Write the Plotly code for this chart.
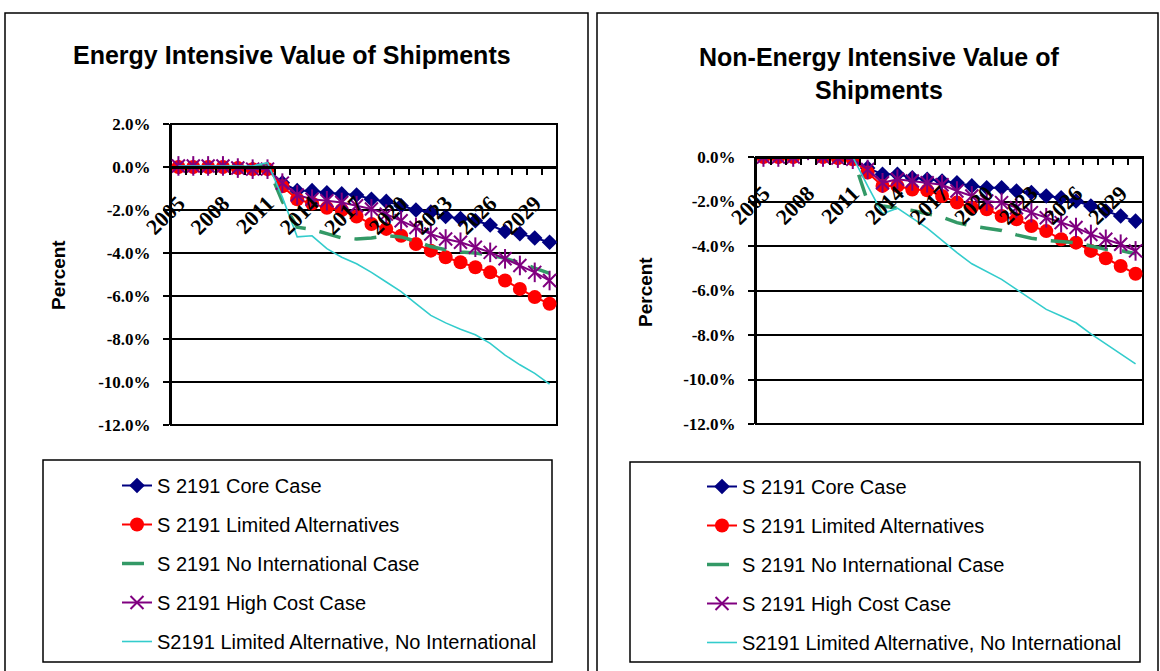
import plotly.graph_objects as go

# ---------------- data ----------------
years = list(range(2005, 2031))
xtick_years = [2005, 2008, 2011, 2014, 2017, 2020, 2023, 2026, 2029]
xtick_text = [str(y) for y in xtick_years]

left_ytick_vals = [2, 0, -2, -4, -6, -8, -10, -12]
left_ytick_text = ["2.0%", "0.0%", "-2.0%", "-4.0%", "-6.0%", "-8.0%", "-10.0%", "-12.0%"]
right_ytick_vals = [0, -2, -4, -6, -8, -10, -12]
right_ytick_text = ["0.0%", "-2.0%", "-4.0%", "-6.0%", "-8.0%", "-10.0%", "-12.0%"]

series_names = ["S 2191 Core Case", "S 2191 Limited Alternatives", "S 2191 No International Case",
                "S 2191 High Cost Case", "S2191 Limited Alternative, No International"]

left_core = [0.0, 0.0, 0.0, 0.0, -0.05, -0.1, -0.1, -0.73, -1.1, -1.1, -1.2, -1.25, -1.3, -1.5, -1.6,
             -1.8, -2.0, -2.1, -2.3, -2.4, -2.5, -2.7, -3.0, -3.1, -3.3, -3.5]
left_limited = [0.0, 0.0, 0.0, 0.0, -0.05, -0.1, -0.1, -0.9, -1.5, -1.7, -1.9, -2.0, -2.3, -2.65, -2.88,
                -3.2, -3.58, -3.89, -4.2, -4.43, -4.66, -4.9, -5.28, -5.67, -6.05, -6.36]
left_noint = [0.0, 0.0, 0.0, 0.0, 0.0, 0.0, 0.05, -1.6, -2.8, -2.9, -3.1, -3.3, -3.35, -3.3, -3.2,
              -3.25, -3.45, -3.7, -3.85, -3.95, -4.0, -4.1, -4.25, -4.45, -4.7, -4.95]
left_highcost = [0.05, 0.05, 0.05, 0.05, -0.05, -0.1, -0.1, -0.75, -1.3, -1.5, -1.57, -1.65, -1.8, -1.95,
                 -2.19, -2.5, -2.81, -3.12, -3.35, -3.5, -3.73, -3.97, -4.27, -4.58, -4.9, -5.28]
left_limnoint = [0.05, 0.05, 0.05, 0.05, 0.05, 0.05, 0.2, -1.4, -3.25, -3.2, -3.8, -4.2, -4.5, -4.9, -5.35,
                 -5.8, -6.35, -6.9, -7.25, -7.55, -7.8, -8.2, -8.75, -9.2, -9.6, -10.1]

right_core = [0.0, 0.0, 0.0, 0.3, 0.0, -0.05, -0.1, -0.49, -0.78, -0.78, -0.93, -1.0, -1.08, -1.16, -1.3,
              -1.38, -1.38, -1.53, -1.6, -1.75, -1.83, -1.98, -2.2, -2.43, -2.65, -2.88]
right_limited = [0.0, 0.0, 0.0, 0.3, 0.0, -0.05, -0.1, -0.7, -1.3, -1.3, -1.46, -1.5, -1.75, -2.05, -2.27,
                 -2.35, -2.65, -2.8, -3.1, -3.33, -3.7, -3.85, -4.22, -4.55, -4.9, -5.25]
right_noint = [0.0, 0.0, 0.0, 0.0, 0.0, 0.0, 0.0, -2.0, -2.2, -2.3, -2.4, -2.55, -2.7, -2.95, -3.1,
               -3.2, -3.3, -3.5, -3.65, -3.75, -3.8, -3.85, -4.0, -4.15, -4.2, -4.35]
right_highcost = [0.0, 0.0, 0.0, 0.3, 0.0, -0.05, -0.1, -0.56, -1.16, -1.0, -1.08, -1.16, -1.25, -1.53,
                  -1.75, -1.98, -2.05, -2.28, -2.5, -2.73, -2.95, -3.17, -3.48, -3.7, -3.92, -4.22]
right_limnoint = [0.0, 0.0, 0.0, -0.05, 0.0, 0.0, 0.0, -1.3, -2.55, -2.3, -2.75, -3.2, -3.75, -4.3, -4.8,
                  -5.15, -5.5, -5.95, -6.4, -6.85, -7.15, -7.45, -7.95, -8.4, -8.85, -9.3]

# ---------------- layout helpers ----------------
W, H = 1160, 671


def px_x(p):
    return p / W


def px_y(p):
    return 1 - p / H


NAVY, RED, GREEN, PURPLE, CYAN = "#000080", "#FF0000", "#339966", "#800080", "#33CCCC"
SERIF = "Liberation Serif"
SANS = "Liberation Sans"

fig = go.Figure()


def add_chart(xa, ya, legend, data):
    core, limited, noint, high, limnoint = data
    common = dict(x=years, xaxis=xa, yaxis=ya, legend=legend, cliponaxis=True)
    fig.add_trace(go.Scatter(y=core, name=series_names[0], mode="lines+markers", legendgroup=legend + "a",
                             line=dict(color=NAVY, width=2),
                             marker=dict(symbol="diamond", size=12, color=NAVY), **common))
    fig.add_trace(go.Scatter(y=limited, name=series_names[1], mode="lines+markers", legendgroup=legend + "b",
                             line=dict(color=RED, width=2),
                             marker=dict(symbol="circle", size=14, color=RED), **common))
    fig.add_trace(go.Scatter(y=noint, name=series_names[2], mode="lines", legendgroup=legend + "c",
                             line=dict(color=GREEN, width=3.5, dash="22px,14px"), **common))
    fig.add_trace(go.Scatter(y=high, name=series_names[3], mode="lines+markers", legendgroup=legend + "d",
                             line=dict(color=PURPLE, width=2),
                             marker=dict(symbol="x-thin-open", size=13, color=PURPLE,
                                         line=dict(color=PURPLE, width=2)), **common))
    fig.add_trace(go.Scatter(y=high, name=series_names[3], mode="markers", legendgroup=legend + "d",
                             showlegend=False,
                             marker=dict(symbol="line-ns-open", size=14, color=PURPLE,
                                         line=dict(color=PURPLE, width=2)), **common))
    fig.add_trace(go.Scatter(y=limnoint, name=series_names[4], mode="lines", legendgroup=legend + "e",
                             line=dict(color=CYAN, width=1.6), **common))


add_chart("x", "y", "legend", [left_core, left_limited, left_noint, left_highcost, left_limnoint])
add_chart("x2", "y2", "legend2", [right_core, right_limited, right_noint, right_highcost, right_limnoint])

# domains
L_xd = [px_x(171), px_x(557)]
L_yd = [px_y(425), px_y(124)]
R_xd = [px_x(756), px_x(1143)]
R_yd = [px_y(424), px_y(157)]
L_range = [-12, 2]
R_range = [-12, 0]


def zero_pos(yd, rng):
    return yd[0] + (yd[1] - yd[0]) * (0 - rng[0]) / (rng[1] - rng[0])


tickfont = dict(family=SERIF, size=17, color="black", weight="bold")
xtickfont = dict(family=SERIF, size=22, color="black", weight="bold")
minor = dict(tickmode="array", tickvals=[2004.5 + i for i in range(27)], ticks="outside",
             ticklen=6, tickwidth=1.5, tickcolor="black", showgrid=False)

for xname, yname, xd, yd, rng, tv, tt in [("xaxis", "yaxis", L_xd, L_yd, L_range, left_ytick_vals, left_ytick_text),
                                          ("xaxis2", "yaxis2", R_xd, R_yd, R_range, right_ytick_vals, right_ytick_text)]:
    ysuffix = yname[5:]
    fig.update_layout({
        xname: dict(domain=xd, range=[2004.5, 2030.5], anchor="free", position=zero_pos(yd, rng),
                    tickmode="array", tickvals=xtick_years, ticktext=xtick_text, tickangle=-45,
                    tickfont=xtickfont, ticks="", showgrid=False, zeroline=False,
                    showline=True, linecolor="black", linewidth=2.5, minor=minor,
                    ticklabelstandoff=13, automargin=False, fixedrange=True),
        yname: dict(domain=yd, range=rng, anchor="x" + ysuffix, tickmode="array", tickvals=tv, ticktext=tt,
                    tickfont=tickfont, ticks="outside", ticklen=6, tickwidth=1.5, tickcolor="black",
                    showgrid=True, gridcolor="black", gridwidth=1.5, zeroline=False,
                    showline=True, linecolor="black", linewidth=2, automargin=False, fixedrange=True,
                    ticklabelstandoff=9),
    })

shapes = []
# plot-area frames
for xr, yr in [("x domain", "y domain"), ("x2 domain", "y2 domain")]:
    shapes.append(dict(type="rect", xref=xr, yref=yr, x0=0, x1=1, y0=0, y1=1,
                       line=dict(color="black", width=2), layer="below"))
# outer chart frames
for x0, x1 in [(5, 588), (597, 1158)]:
    shapes.append(dict(type="rect", xref="paper", yref="paper", x0=px_x(x0), x1=px_x(x1),
                       y0=px_y(690), y1=px_y(13), line=dict(color="black", width=1.5)))
# legend frames
for x0, x1, y0 in [(43, 552, 460), (630, 1140, 462)]:
    shapes.append(dict(type="rect", xref="paper", yref="paper", x0=px_x(x0), x1=px_x(x1),
                       y0=px_y(662), y1=px_y(y0), line=dict(color="black", width=1.5)))

titlefont = dict(family=SANS, size=25, color="black", weight="bold")
annotations = [
    dict(text="Energy Intensive Value of Shipments", x=px_x(292), y=px_y(55), xref="paper", yref="paper",
         xanchor="center", yanchor="middle", showarrow=False, font=titlefont),
    dict(text="Non-Energy Intensive Value of<br>Shipments", x=px_x(879), y=px_y(73), xref="paper",
         yref="paper", xanchor="center", yanchor="middle", showarrow=False, font=titlefont),
    dict(text="Percent", x=px_x(58), y=px_y(275), xref="paper", yref="paper", xanchor="center",
         yanchor="middle", showarrow=False, textangle=-90,
         font=dict(family=SANS, size=19, color="black", weight="bold")),
    dict(text="Percent", x=px_x(645), y=px_y(292), xref="paper", yref="paper", xanchor="center",
         yanchor="middle", showarrow=False, textangle=-90,
         font=dict(family=SANS, size=19, color="black", weight="bold")),
]

legfont = dict(family=SANS, size=20, color="black")
fig.update_layout(
    width=W, height=H, margin=dict(l=0, r=0, t=0, b=0), paper_bgcolor="white", plot_bgcolor="white",
    shapes=shapes, annotations=annotations, showlegend=True,
    legend=dict(x=px_x(117), y=px_y(466), xanchor="left", yanchor="top", font=legfont,
                tracegroupgap=10, bgcolor="rgba(0,0,0,0)", borderwidth=0),
    legend2=dict(x=px_x(702), y=px_y(467), xanchor="left", yanchor="top", font=legfont,
                 tracegroupgap=10, bgcolor="rgba(0,0,0,0)", borderwidth=0),
)

post = ("document.documentElement.style.margin='0';document.documentElement.style.overflow='hidden';"
        "document.body.style.margin='0';document.body.style.padding='0';document.body.style.overflow='hidden';"
        "document.body.style.height='671px';")
fig.write_html("out.html", config={"displayModeBar": False}, post_script=post)
